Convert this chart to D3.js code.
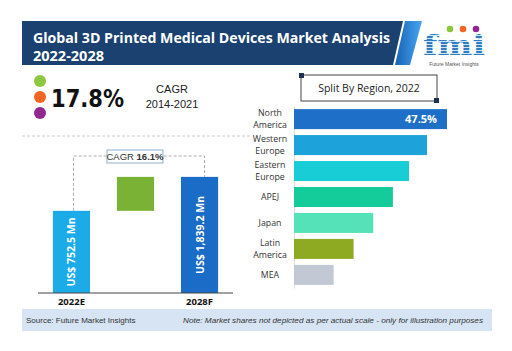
<!DOCTYPE html>
<html>
<head>
<meta charset="utf-8">
<script src="https://cdn.jsdelivr.net/npm/d3@7"></script>
<style>
  body { margin: 0; background: #fff; }
  svg { display: block; }
</style>
</head>
<body>
<svg id="chart"></svg>
<script>
const width = 512;
const height = 351;

// left panel: 2022E vs 2028F (bars drawn at an illustrative level, not to scale)
const years = ["2022E", "2028F"];
const yearValues = ["US$ 752.5 Mn", "US$ 1,839.2 Mn"];
const yearLevels = [52, 73.5];
const cagrLabel = "16.1%";

// right panel: split by region
const regions = ["North America", "Western Europe", "Eastern Europe", "APEJ", "Japan", "Latin America", "MEA"];
const regionShares = [47.5, 41.3, 35.7, 30.7, 24.6, 18.5, 12.3];
const regionColors = ["#1d6fc8", "#1ea2da", "#19cdd6", "#14cc9a", "#55e2b8", "#8ea922", "#c2c9d4"];

const svg = d3.select("#chart")
    .attr("width", width)
    .attr("height", height);

// ---- header banner ----
const grad = svg.append("defs").append("linearGradient")
    .attr("id", "stripe").attr("x1", 0).attr("x2", 1);
grad.append("stop").attr("offset", "0%").attr("stop-color", "#1a62b4");
grad.append("stop").attr("offset", "100%").attr("stop-color", "#45a6f2");

svg.append("path")
    .attr("d", "M22,21 L403,21 L393,65 L22,65 Z")
    .attr("fill", "#1b4170");
svg.append("path")
    .attr("d", "M405,21 L422,21 L410,65 L395,65 Z")
    .attr("fill", "url(#stripe)");

svg.append("text")
    .attr("x", 33).attr("y", 43)
    .style("font-family", "'Open Sans', sans-serif")
    .style("font-weight", "bold")
    .style("font-size", "14.5px")
    .attr("fill", "#fff")
    .attr("textLength", 357).attr("lengthAdjust", "spacingAndGlyphs")
    .text("Global 3D Printed Medical Devices Market Analysis");
svg.append("text")
    .attr("x", 33).attr("y", 61)
    .style("font-family", "'Open Sans', sans-serif")
    .style("font-weight", "bold")
    .style("font-size", "14.5px")
    .attr("fill", "#fff")
    .text("2022-2028");

// ---- logo ----
const pat = svg.select("defs").append("pattern")
    .attr("id", "lines").attr("patternUnits", "userSpaceOnUse")
    .attr("width", 4).attr("height", 3);
pat.append("rect").attr("width", 4).attr("height", 3).attr("fill", "#cfe3f5");
pat.append("rect").attr("width", 4).attr("height", 2).attr("fill", "#2f7dc2");

svg.append("text")
    .attr("x", 454).attr("y", 55)
    .attr("text-anchor", "middle")
    .style("font-family", "'DejaVu Serif', serif")
    .style("font-weight", "bold")
    .style("font-size", "28px")
    .attr("fill", "url(#lines)")
    .attr("textLength", 62).attr("lengthAdjust", "spacingAndGlyphs")
    .text("fmi");
[["#8dc63f", 450], ["#f26522", 463], ["#92278f", 476]].forEach(([c, x]) => {
    svg.append("circle").attr("cx", x).attr("cy", 29).attr("r", 3.3).attr("fill", c);
});
svg.append("text")
    .attr("x", 454).attr("y", 66)
    .attr("text-anchor", "middle")
    .style("font-family", "'Liberation Sans', sans-serif")
    .style("font-size", "5px")
    .attr("fill", "#555")
    .text("Future Market Insights");

// ---- CAGR headline ----
[["#8dc63f", 81], ["#f26522", 97], ["#92278f", 113]].forEach(([c, y]) => {
    svg.append("circle").attr("cx", 40).attr("cy", y).attr("r", 6).attr("fill", c);
});
svg.append("text")
    .attr("x", 51).attr("y", 107)
    .style("font-family", "'DejaVu Sans', sans-serif")
    .style("font-weight", "bold")
    .style("font-size", "25px")
    .attr("fill", "#111")
    .attr("textLength", 73).attr("lengthAdjust", "spacingAndGlyphs")
    .text("17.8%");
svg.append("text")
    .attr("x", 172).attr("y", 93)
    .attr("text-anchor", "middle")
    .style("font-family", "'Liberation Sans', sans-serif")
    .style("font-size", "11px")
    .attr("fill", "#222")
    .text("CAGR");
svg.append("text")
    .attr("x", 172).attr("y", 108)
    .attr("text-anchor", "middle")
    .style("font-family", "'Liberation Sans', sans-serif")
    .style("font-size", "11px")
    .attr("fill", "#222")
    .text("2014-2021");

svg.append("line")
    .attr("x1", 22).attr("x2", 250).attr("y1", 136).attr("y2", 136)
    .attr("stroke", "#ccc").attr("stroke-dasharray", "3,2");

// ---- left bars ----
const baseY = 293;
const xLeft = d3.scaleBand()
    .domain(["2022E", "gap", "2028F"])
    .range([26, 245])
    .paddingInner(0.42)
    .paddingOuter(0.42);
const yLeft = d3.scaleLinear().domain([0, 100]).range([baseY, 135]);
const leftColors = ["#1aabe8", "#1a6cc6"];

svg.selectAll("rect.year")
    .data(years)
    .enter().append("rect")
    .attr("class", "year")
    .attr("x", d => xLeft(d))
    .attr("y", (d, i) => yLeft(yearLevels[i]))
    .attr("width", xLeft.bandwidth())
    .attr("height", (d, i) => baseY - yLeft(yearLevels[i]))
    .attr("fill", (d, i) => leftColors[i]);

svg.append("rect")
    .attr("x", xLeft("gap"))
    .attr("y", yLeft(yearLevels[1]))
    .attr("width", xLeft.bandwidth())
    .attr("height", yLeft(yearLevels[0]) - yLeft(yearLevels[1]))
    .attr("fill", "#79b235");

svg.selectAll("text.val")
    .data(years)
    .enter().append("text")
    .attr("class", "val")
    .attr("transform", (d, i) => {
        const cx = xLeft(d) + xLeft.bandwidth() / 2 + 4;
        const cy = (baseY + yLeft(yearLevels[i])) / 2;
        return `translate(${cx},${cy}) rotate(-90)`;
    })
    .attr("text-anchor", "middle")
    .style("font-family", "'Open Sans', sans-serif")
    .style("font-weight", "bold")
    .style("font-size", "10.5px")
    .attr("fill", "#fff")
    .text((d, i) => yearValues[i]);

svg.append("g")
    .attr("transform", `translate(0,${baseY})`)
    .call(d3.axisBottom(xLeft).tickSize(0).tickFormat(d => d === "gap" ? "" : d))
    .call(g => g.select(".domain").attr("d", "M38,0H233").attr("stroke", "#444"))
    .call(g => g.selectAll("text")
        .attr("dy", "0.9em")
        .style("font-family", "'Open Sans', sans-serif")
        .style("font-weight", "bold")
        .style("font-size", "9.5px")
        .attr("fill", "#111"));

// CAGR connector
const x0 = xLeft("2022E") + xLeft.bandwidth() / 2 + 2;
const x1 = xLeft("2028F") + xLeft.bandwidth() / 2 + 5;
svg.append("path")
    .attr("d", `M${x0},${yLeft(yearLevels[0])} V156 H${x1} V${yLeft(yearLevels[1])}`)
    .attr("fill", "none")
    .attr("stroke", "#aaa")
    .attr("stroke-dasharray", "3,2");
svg.append("rect")
    .attr("x", 107).attr("y", 150).attr("width", 56).attr("height", 13)
    .attr("fill", "#fff").attr("stroke", "#8fb0c8");
const cagrText = svg.append("text")
    .attr("x", 135).attr("y", 160)
    .attr("text-anchor", "middle")
    .style("font-family", "'Liberation Sans', sans-serif")
    .style("font-size", "9.5px")
    .attr("fill", "#333");
cagrText.append("tspan").text("CAGR ");
cagrText.append("tspan").style("font-weight", "bold").text(cagrLabel);

// ---- right: split by region ----
svg.append("rect")
    .attr("x", 301).attr("y", 75).attr("width", 136).attr("height", 26)
    .attr("fill", "#fff").attr("stroke", "#444");
svg.append("rect").attr("x", 299).attr("y", 73).attr("width", 5).attr("height", 5).attr("fill", "#1b3350");
svg.append("rect").attr("x", 434).attr("y", 98).attr("width", 5).attr("height", 5).attr("fill", "#1b3350");
svg.append("text")
    .attr("x", 369).attr("y", 92)
    .attr("text-anchor", "middle")
    .style("font-family", "'Open Sans', sans-serif")
    .style("font-size", "10.5px")
    .attr("fill", "#222")
    .text("Split By Region, 2022");

const xRight = d3.scaleLinear().domain([0, 47.5]).range([294, 447]);
const yRight = d3.scaleBand()
    .domain(regions)
    .range([106, 288])
    .paddingInner(0.23)
    .paddingOuter(0.12);

svg.append("g")
    .attr("transform", "translate(294,0)")
    .call(d3.axisLeft(yRight).tickSize(0).tickFormat(""))
    .call(g => g.select(".domain").attr("stroke", "#ddd"));

svg.selectAll("rect.region")
    .data(regions)
    .enter().append("rect")
    .attr("class", "region")
    .attr("x", xRight(0))
    .attr("y", d => yRight(d))
    .attr("width", (d, i) => xRight(regionShares[i]) - xRight(0))
    .attr("height", yRight.bandwidth())
    .attr("fill", (d, i) => regionColors[i]);

svg.append("text")
    .attr("x", xRight(regionShares[0]) - 10)
    .attr("y", yRight(regions[0]) + yRight.bandwidth() / 2 + 4)
    .attr("text-anchor", "end")
    .style("font-family", "'Open Sans', sans-serif")
    .style("font-weight", "bold")
    .style("font-size", "11px")
    .attr("fill", "#fff")
    .text(regionShares[0] + "%");

const labelLines = {
    "North America": ["North", "America"],
    "Western Europe": ["Western", "Europe"],
    "Eastern Europe": ["Eastern", "Europe"],
    "Latin America": ["Latin", "America"]
};
regions.forEach(r => {
    const lines = labelLines[r] || [r];
    const cy = yRight(r) + yRight.bandwidth() / 2;
    const t = svg.append("text")
        .attr("text-anchor", "middle")
        .style("font-family", "'Open Sans', sans-serif")
        .style("font-size", "8.8px")
        .attr("fill", "#333");
    lines.forEach((l, j) => {
        t.append("tspan")
            .attr("x", 270)
            .attr("y", cy + 3 + (j - (lines.length - 1) / 2) * 12)
            .text(l);
    });
});

// ---- footer ----
svg.append("rect")
    .attr("x", 22).attr("y", 309).attr("width", 470).attr("height", 22)
    .attr("fill", "#d6e4f3");
svg.append("text")
    .attr("x", 26).attr("y", 323)
    .style("font-family", "'Liberation Sans', sans-serif")
    .style("font-size", "8px")
    .attr("fill", "#333")
    .text("Source: Future Market Insights");
svg.append("text")
    .attr("x", 183).attr("y", 323)
    .style("font-family", "'Liberation Sans', sans-serif")
    .style("font-style", "italic")
    .style("font-size", "8px")
    .attr("fill", "#333")
    .attr("textLength", 300).attr("lengthAdjust", "spacingAndGlyphs")
    .text("Note: Market shares not depicted as per actual scale - only for illustration purposes");
</script>
</body>
</html>
